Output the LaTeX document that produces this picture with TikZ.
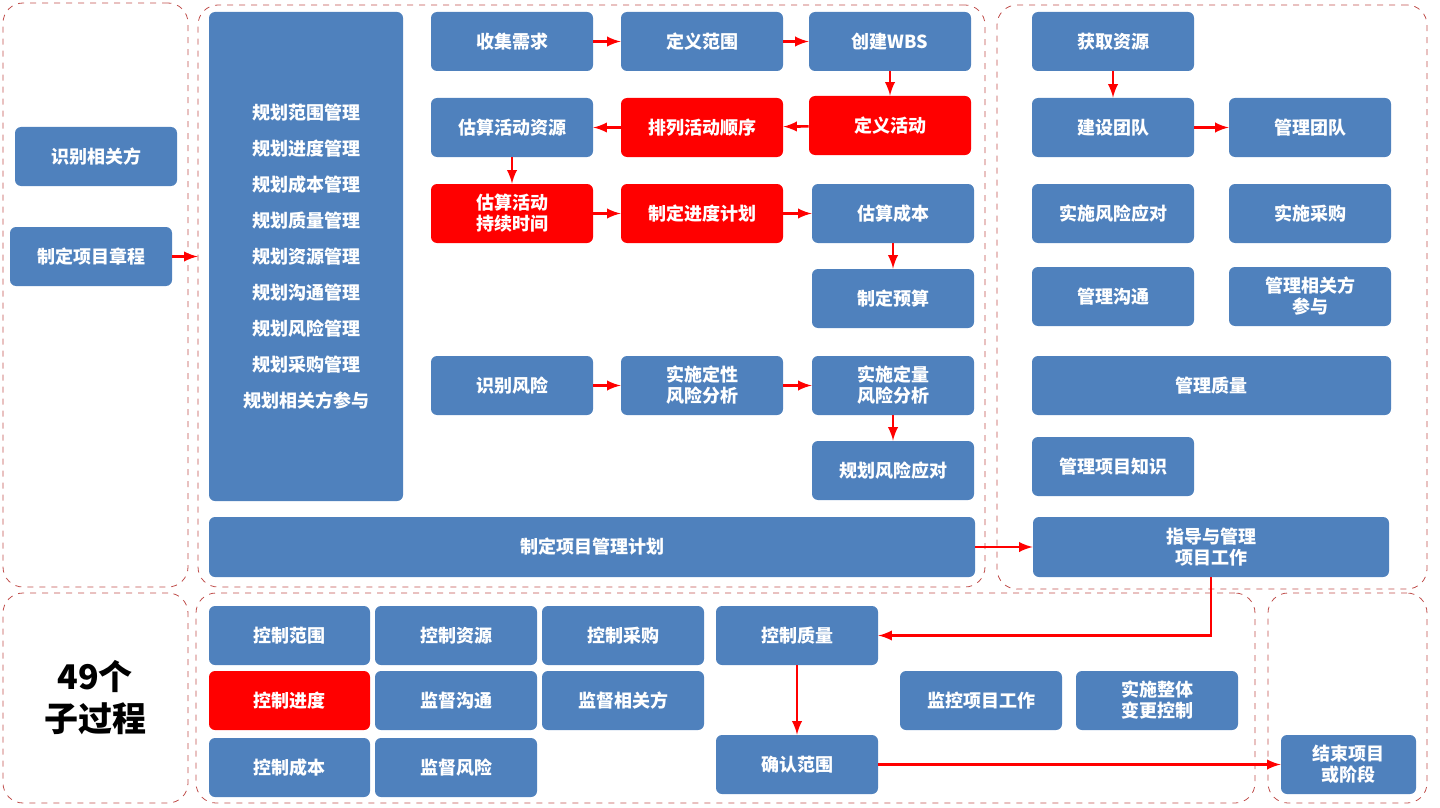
\documentclass[tikz,border=0pt]{standalone}
\usepackage{fontspec}
\setmainfont{Noto Sans CJK SC}
\usetikzlibrary{positioning}
\definecolor{boxblue}{RGB}{79,129,189}
\definecolor{boxred}{RGB}{255,0,0}
\definecolor{framered}{RGB}{192,80,77}
\tikzset{
	box/.style={
		rectangle,
		rounded corners=3pt,
		fill=boxblue,
		text=white,
		font=\fontsize{9}{10.5}\selectfont\bfseries,
		align=center,
		inner sep=0pt,
		minimum width=81pt,
		minimum height=29.5pt
	},
	hot/.style={box,fill=boxred},
	group/.style={
		rectangle,
		rounded corners=10pt,
		draw=framered, dashed, thin,
		inner sep=0pt
	},
	flow/.style={
		->,
		draw=boxred,
		line width=1.3pt
	}
}
\begin{document}
\begin{tikzpicture}[x=0.5pt,y=-0.5pt,>=latex]
	\useasboundingbox (0,0) rectangle (1440,808);

	%%% Groups
	\node[group,minimum width=92.5pt,minimum height=292pt] at (95.5,295) (initgroup) {};
	\node[group,minimum width=92.5pt,minimum height=105pt] at (95.5,698) (countgroup) {};
	\node[group,minimum width=393.5pt,minimum height=291pt] at (591.5,296) (plangroup) {};
	\node[group,minimum width=215pt,minimum height=292pt] at (1212,297) (execgroup) {};
	\node[group,minimum width=529.5pt,minimum height=105pt] at (725.5,698) (mongroup) {};
	\node[group,minimum width=79.5pt,minimum height=105pt] at (1347.5,698) (closegroup) {};

	%%% Initiating
	\node at (96,156.5) [box] (stakeholders) {识别相关方};
	\node at (91,256.5) [box] (charter) {制定项目章程};
	\node at (95,698) [font=\fontsize{17}{21}\selectfont\bfseries,align=center] (count) {49个\\子过程};

	%%% Planning
	\node at (306,256.5) [box,minimum width=97pt,minimum height=244.5pt,
		font=\fontsize{9}{18}\selectfont\bfseries] (planmgmt)
		{规划范围管理\\规划进度管理\\规划成本管理\\规划质量管理\\规划资源管理\\规划沟通管理\\规划风险管理\\规划采购管理\\规划相关方参与};
	\node at (512,41.5) [box] (collect) {收集需求};
	\node at (702,41.5) [box] (scope) {定义范围};
	\node at (890,41.5) [box] (wbs) {创建WBS};
	\node at (512,127.5) [box] (resources) {估算活动资源};
	\node at (702,127.5) [hot] (sequence) {排列活动顺序};
	\node at (890,125.5) [hot] (activities) {定义活动};
	\node at (512,213.5) [hot] (durations) {估算活动\\持续时间};
	\node at (702,213.5) [hot] (schedule) {制定进度计划};
	\node at (893,213.5) [box] (costs) {估算成本};
	\node at (893,298.5) [box] (budget) {制定预算};
	\node at (512,385.5) [box] (risks) {识别风险};
	\node at (702,385.5) [box] (qualitative) {实施定性\\风险分析};
	\node at (893,385.5) [box] (quantitative) {实施定量\\风险分析};
	\node at (893,470.5) [box] (responses) {规划风险应对};
	\node at (592,547) [box,minimum width=383pt,minimum height=30pt] (pmplan) {制定项目管理计划};

	%%% Executing
	\node at (1113,41.5) [box] (acquire) {获取资源};
	\node at (1113,127.5) [box] (develop) {建设团队};
	\node at (1310,127.5) [box] (manageteam) {管理团队};
	\node at (1113,213.5) [box] (implrisk) {实施风险应对};
	\node at (1310,213.5) [box] (procure) {实施采购};
	\node at (1113,296.5) [box] (managecomm) {管理沟通};
	\node at (1310,296.5) [box] (engage) {管理相关方\\参与};
	\node at (1211.5,385.5) [box,minimum width=179.5pt] (quality) {管理质量};
	\node at (1113,466.5) [box] (knowledge) {管理项目知识};
	\node at (1211,547) [box,minimum width=178pt,minimum height=30pt] (direct) {指导与管理\\项目工作};

	%%% Monitoring and controlling
	\node at (289.5,635.5) [box,minimum width=80.5pt] (ctrlscope) {控制范围};
	\node at (456,635.5) [box] (ctrlres) {控制资源};
	\node at (623,635.5) [box] (ctrlproc) {控制采购};
	\node at (797,635.5) [box] (ctrlqual) {控制质量};
	\node at (289.5,700.5) [hot,minimum width=80.5pt] (ctrlsched) {控制进度};
	\node at (456,700.5) [box] (moncomm) {监督沟通};
	\node at (623,700.5) [box] (monstake) {监督相关方};
	\node at (981,700.5) [box] (monwork) {监控项目工作};
	\node at (1157,700.5) [box] (change) {实施整体\\变更控制};
	\node at (289.5,767.5) [box,minimum width=80.5pt] (ctrlcost) {控制成本};
	\node at (456,767.5) [box] (monrisk) {监督风险};
	\node at (797,764.5) [box] (validate) {确认范围};

	%%% Closing
	\node at (1348.5,764.5) [box,minimum width=67.5pt] (close) {结束项目\\或阶段};

	%%% Connections
	\draw[flow] (charter) -- (charter -| plangroup.west);
	\draw[flow] (collect) -- (scope);
	\draw[flow] (scope) -- (wbs);
	\draw[flow] (wbs) -- (activities);
	\draw[flow] (activities) -- (sequence);
	\draw[flow] (sequence) -- (resources);
	\draw[flow] (resources) -- (durations);
	\draw[flow] (durations) -- (schedule);
	\draw[flow] (schedule) -- (costs);
	\draw[flow] (costs) -- (budget);
	\draw[flow] (risks) -- (qualitative);
	\draw[flow] (qualitative) -- (quantitative);
	\draw[flow] (quantitative) -- (responses);
	\draw[flow] (pmplan) -- (direct);
	\draw[flow] (acquire) -- (develop);
	\draw[flow] (develop) -- (manageteam);
	\draw[flow] (direct.south) -- (direct.south |- ctrlqual) -- (ctrlqual);
	\draw[flow] (ctrlqual) -- (validate);
	\draw[flow] (validate) -- (close);
\end{tikzpicture}
\end{document}
